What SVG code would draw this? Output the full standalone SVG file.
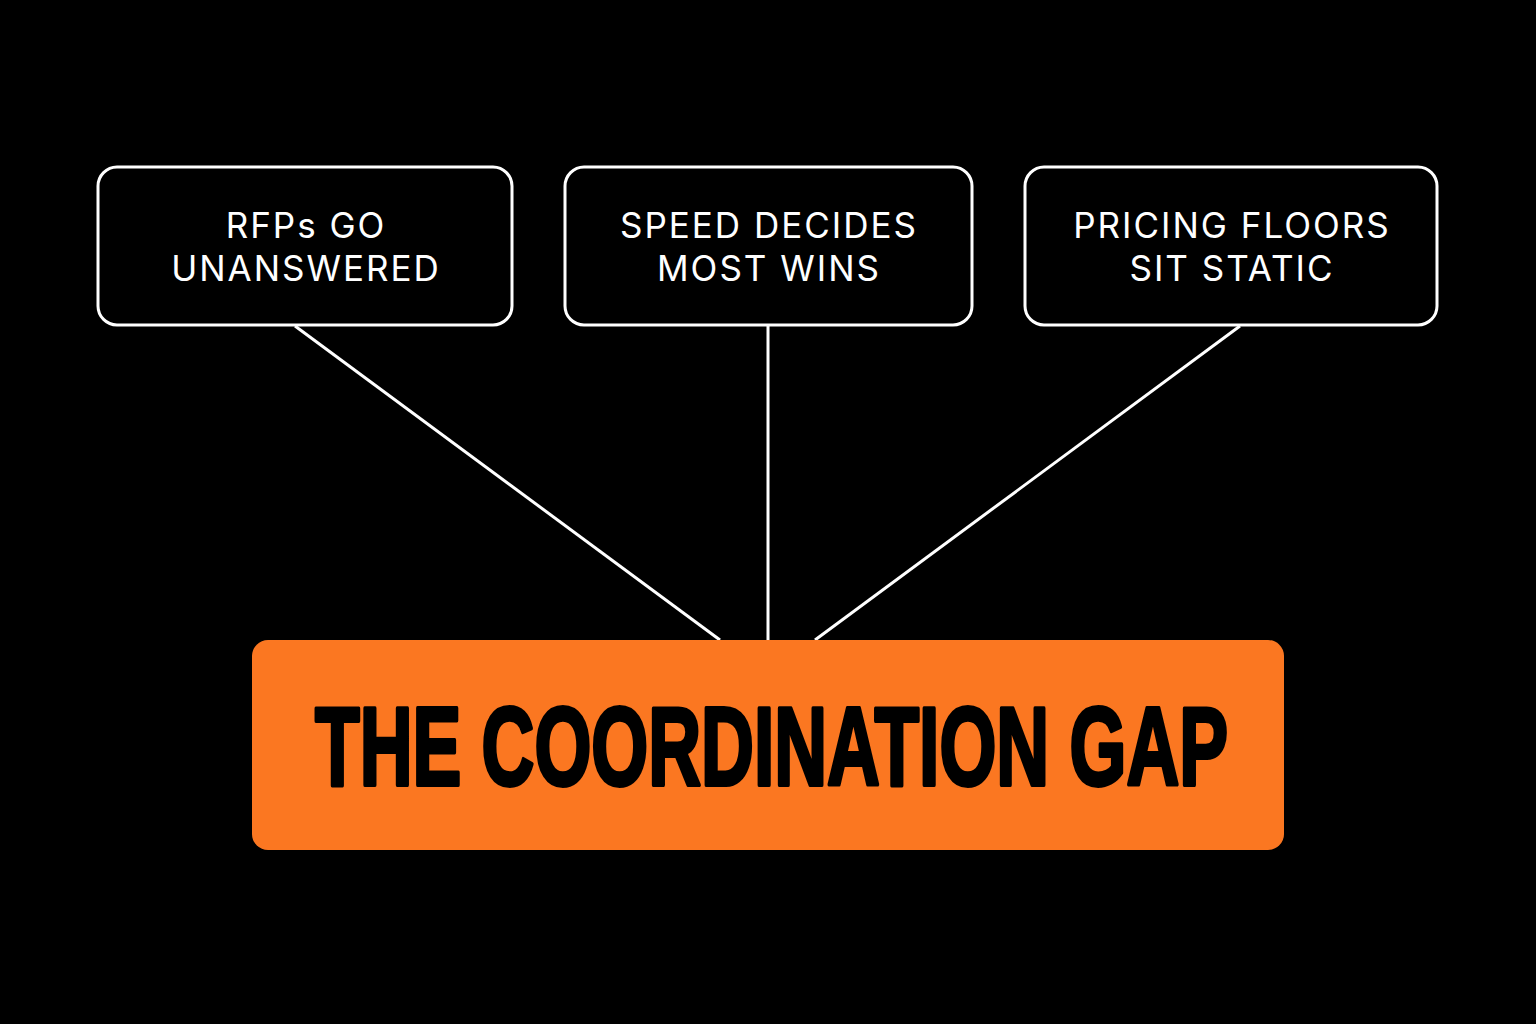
<svg xmlns="http://www.w3.org/2000/svg" width="1536" height="1024" viewBox="0 0 1536 1024">
<style>
.box{fill:#000;stroke:#fff;stroke-width:3}
.lbl{fill:#fff;font-family:Inter,"Liberation Sans",sans-serif;font-size:35px;font-weight:400;letter-spacing:2px;text-anchor:middle}
.conn{stroke:#fff;stroke-width:3;fill:none}
.title{fill:#000;stroke:#000;stroke-width:4;stroke-linejoin:round;font-family:"Liberation Sans",Arial,sans-serif;font-weight:700;font-size:112px}
</style>
<rect width="1536" height="1024" fill="#000"/>
<g id="connectors">
<line class="conn" x1="295" y1="326" x2="720" y2="640"/>
<line class="conn" x1="768" y1="326" x2="768" y2="640"/>
<line class="conn" x1="1240" y1="326" x2="815" y2="640"/>
</g>
<g id="node-rfps">
<rect class="box" x="98" y="167" width="414" height="158" rx="19"/>
<text class="lbl" x="306" y="238">RFPs GO</text>
<text class="lbl" x="306" y="281">UNANSWERED</text>
</g>
<g id="node-speed">
<rect class="box" x="565" y="167" width="407" height="158" rx="19"/>
<text class="lbl" x="769" y="238">SPEED DECIDES</text>
<text class="lbl" x="769" y="281">MOST WINS</text>
</g>
<g id="node-pricing">
<rect class="box" x="1025" y="167" width="412" height="158" rx="19"/>
<text class="lbl" x="1232" y="238">PRICING FLOORS</text>
<text class="lbl" x="1232" y="281">SIT STATIC</text>
</g>
<g id="node-gap">
<rect x="252" y="640" width="1032" height="210" rx="16" fill="#FB7721"/>
<text class="title" x="315" y="785" textLength="913" lengthAdjust="spacingAndGlyphs">THE COORDINATION GAP</text>
</g>
</svg>
